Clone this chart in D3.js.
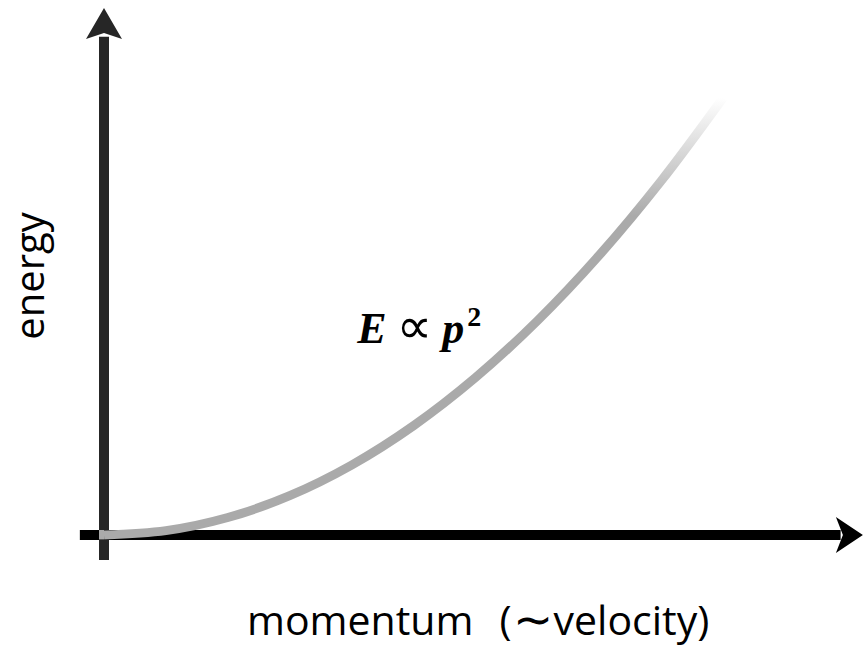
<!DOCTYPE html>
<html>
<head>
<meta charset="utf-8">
<script src="https://cdn.jsdelivr.net/npm/d3@7"></script>
<style>
  body { margin: 0; background: #fff; }
  svg { display: block; }
</style>
</head>
<body>
<div id="chart"></div>
<script>
// momentum values (arbitrary units) and energy
const momentum = [0, 0.1, 0.2, 0.3, 0.4, 0.5, 0.6, 0.7, 0.8, 0.9, 1.0];
const energy   = [0, 0.01, 0.04, 0.09, 0.16, 0.25, 0.36, 0.49, 0.64, 0.81, 1.0];

const xLabelA = "momentum";
const xLabelB = "(";
const xLabelTilde = "\u223C";
const xLabelC = "velocity)";
const yLabel = "energy";

const width = 865, height = 649;

const svg = d3.select("#chart")
  .append("svg")
    .attr("width", width)
    .attr("height", height);

// scales: origin of the sketch sits at (104, 535)
const x = d3.scaleLinear().domain([0, 1]).range([104, 723]);
const y = d3.scaleLinear().domain([0, 1]).range([535, 98]);

const data = momentum.map((p, i) => ({ p: p, e: energy[i] }));

// fade at the top end of the curve
const defs = svg.append("defs");
const grad = defs.append("linearGradient")
    .attr("id", "fade")
    .attr("gradientUnits", "userSpaceOnUse")
    .attr("x1", 0).attr("x2", 0)
    .attr("y1", y(0.73)).attr("y2", y(1.0));
grad.append("stop").attr("offset", "0%").attr("stop-color", "#aaaaaa");
grad.append("stop").attr("offset", "100%").attr("stop-color", "#ffffff");

// Y axis (dark grey) with arrow head
svg.append("line")
    .attr("x1", x(0)).attr("x2", x(0))
    .attr("y1", y(-0.057)).attr("y2", y(1.14))
    .attr("stroke", "#262626")
    .attr("stroke-width", 10);
svg.append("path")
    .attr("d", "M0,-27 L18,4 L0,-2 L-18,4 Z")
    .attr("transform", "translate(" + x(0) + "," + y(1.144) + ")")
    .attr("fill", "#262626");

// X axis (black) with arrow head
svg.append("line")
    .attr("x1", x(-0.039)).attr("x2", x(1.19))
    .attr("y1", y(0)).attr("y2", y(0))
    .attr("stroke", "#000")
    .attr("stroke-width", 10);
svg.append("path")
    .attr("d", "M26,0 L-1,-18 L6,0 L-1,18 Z")
    .attr("transform", "translate(" + x(1.184) + "," + y(0) + ")")
    .attr("fill", "#000");

// the curve
svg.append("path")
    .datum(data)
    .attr("fill", "none")
    .attr("stroke", "url(#fade)")
    .attr("stroke-width", 9)
    .attr("stroke-linecap", "butt")
    .attr("d", d3.line()
        .x(d => x(d.p))
        .y(d => y(d.e))
        .curve(d3.curveCatmullRom));

// small square so the curve covers the axis crossing
svg.append("rect")
    .attr("x", x(0) - 5).attr("y", y(0) - 5)
    .attr("width", 5).attr("height", 9.5)
    .attr("fill", "#aaaaaa");

// formula label
const lab = svg.append("text")
    .attr("x", x(0.409))
    .attr("y", y(0.44))
    .attr("fill", "#000");
lab.append("tspan")
    .attr("font-family", "Liberation Serif")
    .attr("font-weight", "bold")
    .attr("font-style", "italic")
    .attr("font-size", 44)
    .text("E");
lab.append("tspan")
    .attr("font-family", "DejaVu Sans")
    .attr("font-size", 50)
    .attr("dx", 10)
    .text("\u221D");
lab.append("tspan")
    .attr("font-family", "Liberation Serif")
    .attr("font-weight", "bold")
    .attr("font-style", "italic")
    .attr("font-size", 44)
    .attr("dx", 10)
    .text("p");
lab.append("tspan")
    .attr("font-family", "Liberation Serif")
    .attr("font-weight", "bold")
    .attr("font-size", 28)
    .attr("dx", 3)
    .attr("dy", -17)
    .text("2");

// axis labels
const xl = svg.append("text")
    .attr("x", 247)
    .attr("y", 635)
    .attr("font-family", "Open Sans")
    .attr("font-size", 41)
    .attr("fill", "#000");
xl.append("tspan").text(xLabelA);
xl.append("tspan").attr("dx", 26).text(xLabelB);
xl.append("tspan").attr("font-size", 48).attr("dx", 1).attr("dy", 1).text(xLabelTilde);
xl.append("tspan").attr("dy", -1).attr("dx", 1).text(xLabelC);

svg.append("text")
    .attr("transform", "translate(44,276) rotate(-90)")
    .attr("text-anchor", "middle")
    .attr("font-family", "Open Sans")
    .attr("font-size", 40)
    .attr("fill", "#000")
    .text(yLabel);
</script>
</body>
</html>
